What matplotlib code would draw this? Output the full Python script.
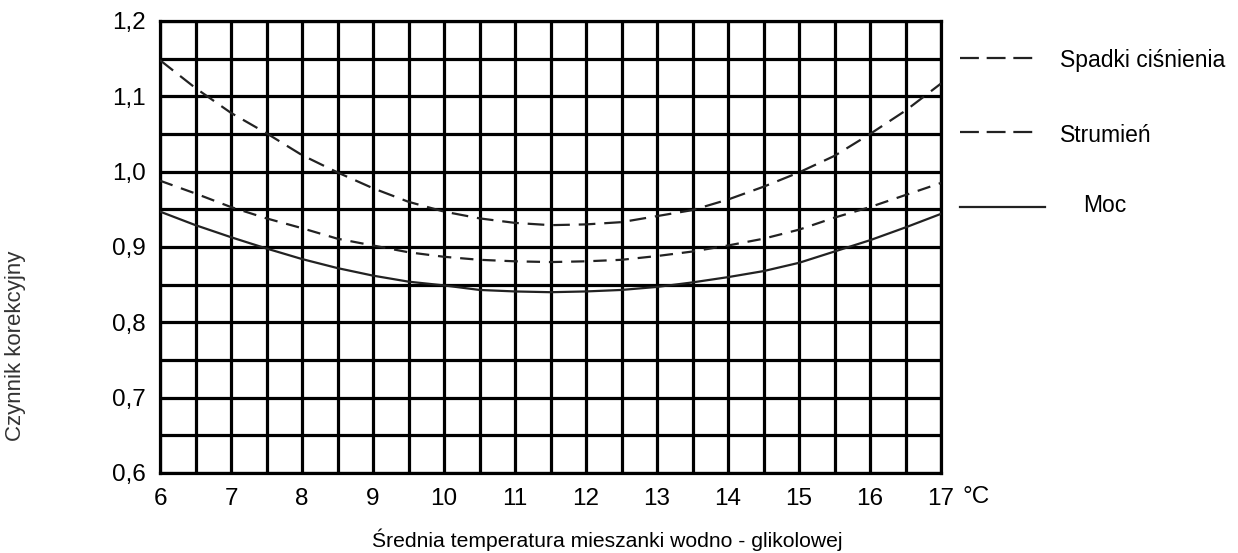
import matplotlib
matplotlib.use("Agg")
import matplotlib.pyplot as plt
from matplotlib.ticker import MultipleLocator, FuncFormatter
from matplotlib.lines import Line2D

plt.rcParams['font.family'] = ['Liberation Sans', 'DejaVu Sans']

temps = [6, 6.5, 7, 7.5, 8, 8.5, 9, 9.5, 10, 10.5, 11, 11.5, 12, 12.5,
         13, 13.5, 14, 14.5, 15, 15.5, 16, 16.5, 17]
spadki = [1.148, 1.111, 1.078, 1.051, 1.022, 0.999, 0.978, 0.960, 0.947, 0.938,
          0.932, 0.929, 0.930, 0.933, 0.941, 0.949, 0.963, 0.980, 0.999, 1.021,
          1.050, 1.081, 1.117]
strumien = [0.988, 0.971, 0.953, 0.938, 0.925, 0.911, 0.902, 0.893, 0.887, 0.883,
            0.881, 0.880, 0.881, 0.883, 0.888, 0.894, 0.902, 0.911, 0.923, 0.939,
            0.953, 0.969, 0.985]
moc = [0.947, 0.929, 0.913, 0.898, 0.884, 0.872, 0.862, 0.854, 0.849, 0.843,
       0.841, 0.840, 0.841, 0.843, 0.847, 0.853, 0.860, 0.868, 0.879, 0.894,
       0.909, 0.926, 0.944]
series_labels = ["Spadki ciśnienia", "Strumień", "Moc"]
x_ticks = list(range(6, 18))
y_ticks = [0.6, 0.7, 0.8, 0.9, 1.0, 1.1, 1.2]

W, H = 1238, 553
fig = plt.figure(figsize=(W / 100, H / 100), dpi=100)
ax = fig.add_axes([160 / W, 1 - 473 / H, (941 - 160) / W, (473 - 21) / H])

ax.set_xlim(6, 17)
ax.set_ylim(0.6, 1.2)
ax.set_xticks(x_ticks)
ax.set_yticks(y_ticks)
ax.xaxis.set_minor_locator(MultipleLocator(0.5))
ax.yaxis.set_minor_locator(MultipleLocator(0.05))
ax.yaxis.set_major_formatter(FuncFormatter(lambda v, p: f"{v:.1f}".replace('.', ',')))
ax.grid(True, which='both', color='black', linewidth=2.3)
ax.set_axisbelow(True)
for s in ax.spines.values():
    s.set_linewidth(2.3)
    s.set_color('black')
ax.tick_params(which='both', length=0)
ax.tick_params(axis='x', pad=11, labelsize=17.5)
ax.tick_params(axis='y', pad=10.5, labelsize=17.5)

curve_color = '#222222'
ax.plot(temps, spadki, color=curve_color, lw=1.6, linestyle=(0, (7.5, 4)), zorder=3)
ax.plot(temps, strumien, color=curve_color, lw=1.6, linestyle=(0, (6, 4)), zorder=3)
ax.plot(temps, moc, color=curve_color, lw=1.6, linestyle='-', zorder=3)

# legend drawn manually at the right
def fx(px):
    return px / W

def fy(py):
    return 1 - py / H

leg = [(58, (0, (8.5, 3.5)), 1060, 60),
       (132, (0, (8.5, 3.5)), 1060, 135),
       (207, '-', 1083, 205)]
for (ly, ls, tx, ty), lab in zip(leg, series_labels):
    fig.add_artist(Line2D([fx(960), fx(1040 if ls != '-' else 1045)], [fy(ly), fy(ly)],
                          color=curve_color, lw=1.6, linestyle=ls))
    fig.text(fx(tx), fy(ty), lab, fontsize=16.5, va='center', ha='left')

fig.text(fx(963), fy(497), "°C", fontsize=17.5, va='center', ha='left')
fig.text(fx(607), fy(540), "Średnia temperatura mieszanki wodno - glikolowej",
         fontsize=15.2, va='center', ha='center')
fig.text(fx(16), fy(346), "Czynnik korekcyjny", fontsize=16, va='center', ha='center',
         rotation=90, color='#333333')

fig.savefig("out.png", dpi=100)
